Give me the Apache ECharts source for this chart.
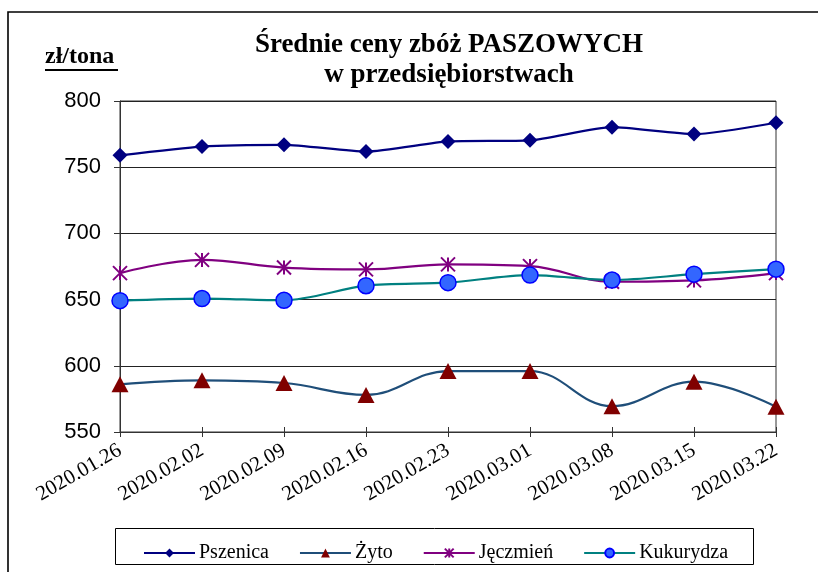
<!DOCTYPE html>
<html><head><meta charset="utf-8">
<script src="https://cdn.jsdelivr.net/npm/echarts@6/dist/echarts.min.js"></script>
<style>html,body{margin:0;padding:0;background:#fff}#c{width:818px;height:572px}</style>
</head><body><div id="c"></div>
<script>
const categories = ['2020.01.26','2020.02.02','2020.02.09','2020.02.16','2020.02.23','2020.03.01','2020.03.08','2020.03.15','2020.03.22'];
const pszenica  = [759, 765.6, 766.9, 761.8, 769.5, 770.3, 780.2, 775, 783.6];
const zyto      = [586, 589, 587, 578, 596, 596, 569.5, 588, 569];
const jeczmien  = [670, 680, 674.2, 672.8, 676.6, 675.3, 663.5, 664.5, 670];
const kukurydza = [649.2, 650.8, 649.5, 660.5, 662.8, 668.5, 664.8, 669.2, 673];
const yTicks = [550, 600, 650, 700, 750, 800];

const star = 'path://M5 0 L5 10 M0 0 L10 10 M10 0 L0 10';
const serif = '"Liberation Serif", "DejaVu Serif", serif';
const sans = '"Liberation Sans", Arial, sans-serif';

const chart = echarts.init(document.getElementById('c'), null, {renderer: 'canvas'});
chart.setOption({
  animation: false,
  backgroundColor: '#fff',
  grid: {left: 120, right: 42, top: 101, bottom: 140, show: true, borderColor: '#333', borderWidth: 1, backgroundColor: 'transparent'},
  legend: {
    left: 138, top: 538, itemWidth: 51, itemHeight: 11, itemGap: 30,
    textStyle: {fontFamily: serif, fontSize: 20, color: '#000', padding: [0, 0, 0, -1]},
    data: ['Pszenica', 'Żyto', 'Jęczmień', 'Kukurydza']
  },
  xAxis: [{
    type: 'category', data: categories, boundaryGap: false,
    axisLine: {lineStyle: {color: '#333', width: 1}},
    axisTick: {alignWithLabel: true, length: 5, lineStyle: {color: '#333'}},
    axisLabel: {rotate: 30, fontFamily: serif, fontSize: 21, color: '#000', margin: 17, interval: 0}
  }, {
    type: 'category', data: categories, boundaryGap: false, position: 'bottom',
    axisLine: {show: false},
    axisTick: {inside: true, length: 5, lineStyle: {color: '#333'}},
    axisLabel: {show: false}
  }],
  yAxis: {
    type: 'value', min: yTicks[0], max: yTicks[yTicks.length - 1], interval: 50,
    axisLine: {show: true, lineStyle: {color: '#333'}},
    axisTick: {show: true, length: 6, lineStyle: {color: '#333'}},
    splitLine: {lineStyle: {color: '#222', width: 1}},
    axisLabel: {fontFamily: sans, fontSize: 22, color: '#000', margin: 19}
  },
  graphic: [
    {type: 'polyline', shape: {points: [[8, 580], [8, 12], [830, 12]]}, style: {stroke: '#000', lineWidth: 1.6, fill: null}},
    {type: 'text', x: 449, y: 45, style: {text: 'Średnie ceny zbóż PASZOWYCH', font: 'bold 27px ' + serif, fill: '#000', align: 'center', verticalAlign: 'middle'}},
    {type: 'text', x: 449, y: 75, style: {text: 'w przedsiębiorstwach', font: 'bold 27px ' + serif, fill: '#000', align: 'center', verticalAlign: 'middle'}},
    {type: 'text', x: 45, y: 57, style: {text: 'zł/tona', font: 'bold 24px ' + serif, fill: '#000', verticalAlign: 'middle'}},
    {type: 'line', shape: {x1: 45, y1: 70, x2: 118, y2: 70}, style: {stroke: '#000', lineWidth: 2}},
    {type: 'rect', shape: {x: 115.5, y: 528.5, width: 638, height: 36}, style: {stroke: '#000', lineWidth: 1, fill: null}, z: 0}
  ],
  series: [
    {name: 'Pszenica', type: 'line', data: pszenica, smooth: 0.2, symbol: 'diamond', symbolSize: 15,
     lineStyle: {color: '#000080', width: 2.2}, itemStyle: {color: '#000080'}},
    {name: 'Żyto', type: 'line', data: zyto, smooth: 0.4, symbol: 'triangle', symbolSize: [17, 16],
     lineStyle: {color: '#1f4e79', width: 2.2}, itemStyle: {color: '#800000'}},
    {name: 'Jęczmień', type: 'line', data: jeczmien, smooth: 0.4, symbol: star, symbolSize: 14,
     lineStyle: {color: '#800080', width: 2.2}, itemStyle: {color: '#800080', borderColor: '#800080', borderWidth: 2}},
    {name: 'Kukurydza', type: 'line', data: kukurydza, smooth: 0.3, symbol: 'circle', symbolSize: 16,
     lineStyle: {color: '#008080', width: 2.2}, itemStyle: {color: '#3366ff', borderColor: '#0000ff', borderWidth: 1.5}}
  ]
});
</script></body></html>
